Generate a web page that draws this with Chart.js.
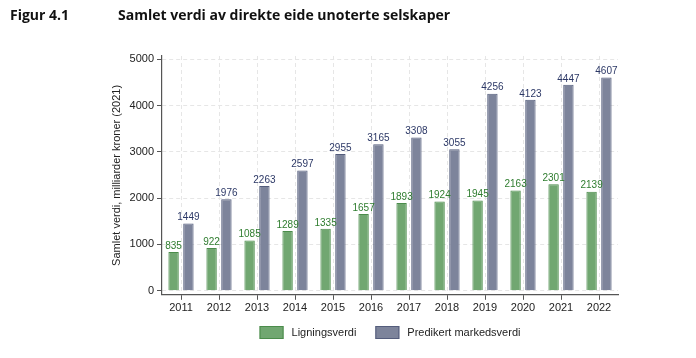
<!DOCTYPE html>
<html>
<head>
<meta charset="utf-8">
<script src="https://cdn.jsdelivr.net/npm/chart.js@4"></script>
<style>
    html, body { margin: 0; padding: 0; background: #fff; }
    #wrap { position: relative; width: 696px; height: 358px; }
    #chart { position: absolute; left: 0; top: 0; }
    .head { position: absolute; top: 5px; font: bold 14px "Open Sans", sans-serif; color: #111; }
</style>
</head>
<body>
<div id="wrap">
    <canvas id="chart" width="696" height="358"></canvas>
    <div class="head" style="left:10px">Figur 4.1</div>
    <div class="head" style="left:118px">Samlet verdi av direkte eide unoterte selskaper</div>
</div>
<script>
"use strict";

const years = ["2011", "2012", "2013", "2014", "2015", "2016", "2017", "2018", "2019", "2020", "2021", "2022"];
const ligningsverdi = [835, 922, 1085, 1289, 1335, 1657, 1893, 1924, 1945, 2163, 2301, 2139];
const markedsverdi = [1449, 1976, 2263, 2597, 2955, 3165, 3308, 3055, 4256, 4123, 4447, 4607];
const yTicks = [0, 1000, 2000, 3000, 4000, 5000];

const kFont = "'Liberation Sans', Arial, sans-serif";
const kLabelColors = ["#2f7d2f", "#2c3866"];

// value above each bar
const barLabels = {
    id: "barLabels",
    afterDatasetsDraw(chart) {
        const { ctx } = chart;
        ctx.save();
        ctx.font = `10px ${kFont}`;
        ctx.textAlign = "center";
        ctx.textBaseline = "bottom";
        chart.data.datasets.forEach((ds, i) => {
            ctx.fillStyle = kLabelColors[i];
            chart.getDatasetMeta(i).data.forEach((bar, j) => {
                ctx.fillText(String(ds.data[j]), bar.x, bar.y - 1);
            });
        });
        ctx.restore();
    }
};

// legend centred under the plot area
const plotLegend = {
    id: "plotLegend",
    afterDraw(chart) {
        const { ctx, chartArea } = chart;
        const boxW = 24, boxH = 13, gap = 8, spacing = 19;
        ctx.save();
        ctx.font = `11px ${kFont}`;
        const items = chart.data.datasets.map(ds => ({ ds, w: boxW + gap + ctx.measureText(ds.label).width }));
        const total = items.reduce((s, it) => s + it.w, 0) + spacing * (items.length - 1);
        let x = (chartArea.left + chartArea.right) / 2 - total / 2;
        const y = 326;
        for (const { ds, w } of items) {
            ctx.fillStyle = ds.backgroundColor;
            ctx.strokeStyle = ds.borderColor;
            ctx.lineWidth = 1;
            ctx.fillRect(x, y, boxW, boxH);
            ctx.strokeRect(x + 0.5, y + 0.5, boxW - 1, boxH - 1);
            ctx.fillStyle = "#222";
            ctx.textBaseline = "middle";
            ctx.fillText(ds.label, x + boxW + gap, y + boxH / 2 + 0.5);
            x += w + spacing;
        }
        ctx.restore();
    }
};

const gridColor = "#e6e6e6";
const axisColor = "#555";

new Chart(document.getElementById("chart").getContext("2d"), {
    type: "bar",
    data: {
        labels: years,
        datasets: [{
            label: "Ligningsverdi",
            data: ligningsverdi,
            backgroundColor: "#71a771",
            borderColor: "#4b8c4b",
            borderWidth: 1
        }, {
            label: "Predikert markedsverdi",
            data: markedsverdi,
            backgroundColor: "#7d849b",
            borderColor: "#545d7c",
            borderWidth: 1
        }]
    },
    options: {
        responsive: false,
        animation: false,
        devicePixelRatio: 1,
        layout: { padding: { top: 56, left: 108, right: 78, bottom: 41 } },
        datasets: { bar: { categoryPercentage: 0.78, barPercentage: 0.7 } },
        plugins: {
            legend: { display: false },
            tooltip: { enabled: false }
        },
        scales: {
            x: {
                offset: true,
                grid: {
                    offset: false,
                    color: gridColor,
                    tickColor: axisColor,
                    tickLength: 5
                },
                border: { display: true, color: axisColor, width: 1.2, dash: [4, 3] },
                ticks: { color: "#222", font: { family: kFont, size: 11 }, padding: 2, maxRotation: 0 }
            },
            y: {
                min: -90,
                max: 5070,
                afterFit(scale) {
                    scale.width = 54;
                },
                afterBuildTicks(scale) {
                    scale.ticks = yTicks.map(value => ({ value }));
                },
                grid: {
                    color: gridColor,
                    tickColor: axisColor,
                    tickLength: 5
                },
                border: { display: true, color: axisColor, width: 1.2, dash: [4, 3] },
                ticks: {
                    color: "#222",
                    font: { family: kFont, size: 11 },
                    padding: 3,
                    callback: value => String(value)
                },
                title: {
                    display: true,
                    text: "Samlet verdi, milliarder kroner (2021)",
                    color: "#222",
                    font: { family: kFont, size: 11 },
                    padding: { top: 2, bottom: 0 }
                }
            }
        }
    },
    plugins: [barLabels, plotLegend]
});
</script>
</body>
</html>
